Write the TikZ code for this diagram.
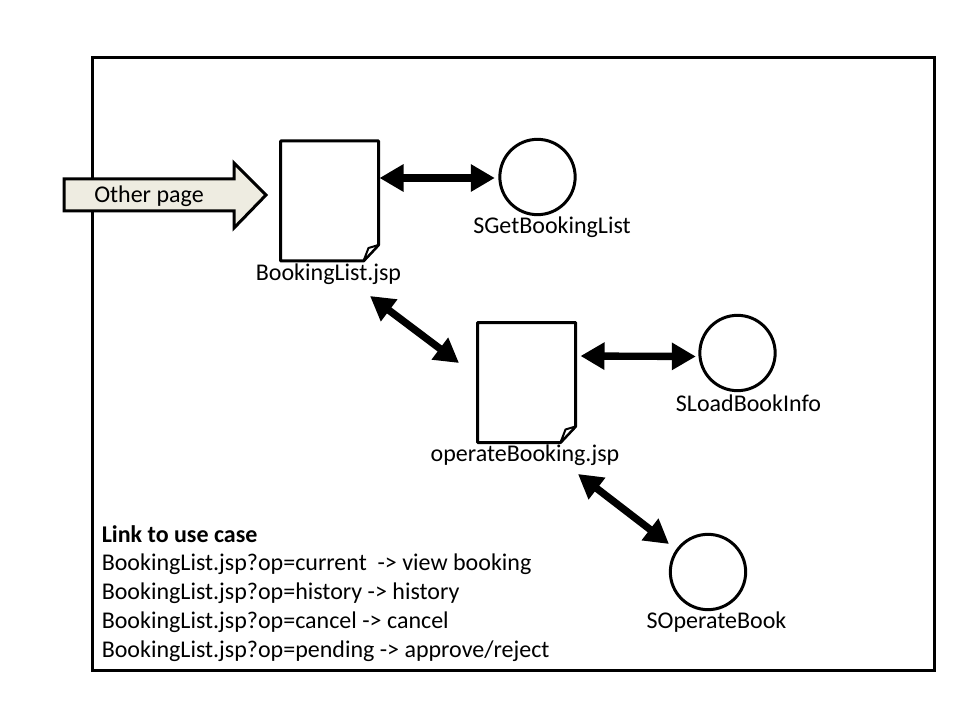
\documentclass[tikz,border=0pt]{standalone}
\usepackage{fontspec}
\setmainfont{Carlito}
\usetikzlibrary{arrows.meta,calc}
\tikzset{
  x=0.75pt,y=-0.75pt,
  frameline/.style={draw=black,line width=2.25pt},
  docbox/.style={minimum width=73.5pt,minimum height=90pt,inner sep=0,outer sep=0},
  docline/.style={draw=black,fill=white,line width=2.25pt,line join=round},
  foldline/.style={draw=black,fill=white,line width=1.5pt,line join=round},
  circ/.style={circle,draw=black,line width=2.25pt,fill=white,minimum size=56.5pt,inner sep=0,outer sep=0},
  lbl/.style={font=\fontsize{18}{21}\selectfont,inner sep=0,text=black},
  dbl/.style={line width=5.5pt,{Triangle[length=18pt,width=19.5pt]}-{Triangle[length=18pt,width=19.5pt]}},
  pagearrow/.style={draw=black,fill=pagefill,line width=2.25pt,miter limit=10},
}
\definecolor{pagefill}{HTML}{EEECE1}
\newcommand{\docshape}[1]{%
  \path[docline] (#1.north west) -- (#1.north east) -- ($(#1.south east)+(0,-16)$) -- ($(#1.south west)+(83,0)$) -- (#1.south west) -- cycle;
  \path[foldline] ($(#1.south west)+(83,0)$) -- ($(#1.south west)+(88,-13)$) -- ($(#1.south east)+(0,-16)$) -- cycle;
}
\begin{document}
\begin{tikzpicture}
\useasboundingbox[fill=white] (0,0) rectangle (960,720);
\draw[frameline] (92,58) rectangle (934,670);
\path[pagearrow] (64,179) -- (234,179) -- (234,163) -- (266,195) -- (234,228) -- (234,211) -- (64,211) -- cycle;
\node[lbl,anchor=west] (other) at (94,196.5) {Other page};

\node[docbox] (doc1) at (329.5,201) {};
\docshape{doc1}
\node[docbox] (doc2) at (526.5,382.5) {};
\docshape{doc2}
\node[circ] (c1) at (537.5,177) {};
\node[circ] (c2) at (737.5,353) {};
\node[circ] (c3) at (708,572) {};

\node[lbl] (doc1l) at (328.5,274) {BookingList.jsp};
\node[lbl] (doc2l) at (525,455) {operateBooking.jsp};
\node[lbl] (c1l) at (552,227.5) {SGetBookingList};
\node[lbl] (c2l) at (748.5,403) {SLoadBookInfo};
\node[lbl] (c3l) at (716.5,622.5) {SOperateBook};

\coordinate (a2s) at (370,296);
\coordinate (a2e) at (459,363);
\coordinate (a4s) at (578,474);
\coordinate (a4e) at (669,544);
\draw[dbl] ($(doc1.east)+(1,-23)$) -- ($(c1.west)+(-5,1)$);
\draw[dbl] ($(doc2.east)+(5,-26.5)$) -- ($(c2.west)+(-4,3.5)$);
\draw[dbl] (a2s) -- (a2e);
\draw[dbl] (a4s) -- (a4e);

\node[lbl,anchor=west] (t0) at (101.5,534) {\bfseries Link to use case};
\node[lbl,anchor=west] (t1) at (101.5,564.5) {BookingList.jsp?op=current\ \ -> view booking};
\node[lbl,anchor=west] (t2) at (101.5,593.5) {BookingList.jsp?op=history -> history};
\node[lbl,anchor=west] (t3) at (101.5,622.5) {BookingList.jsp?op=cancel -> cancel};
\node[lbl,anchor=west] (t4) at (101.5,651.5) {BookingList.jsp?op=pending -> approve/reject};
\end{tikzpicture}
\end{document}
